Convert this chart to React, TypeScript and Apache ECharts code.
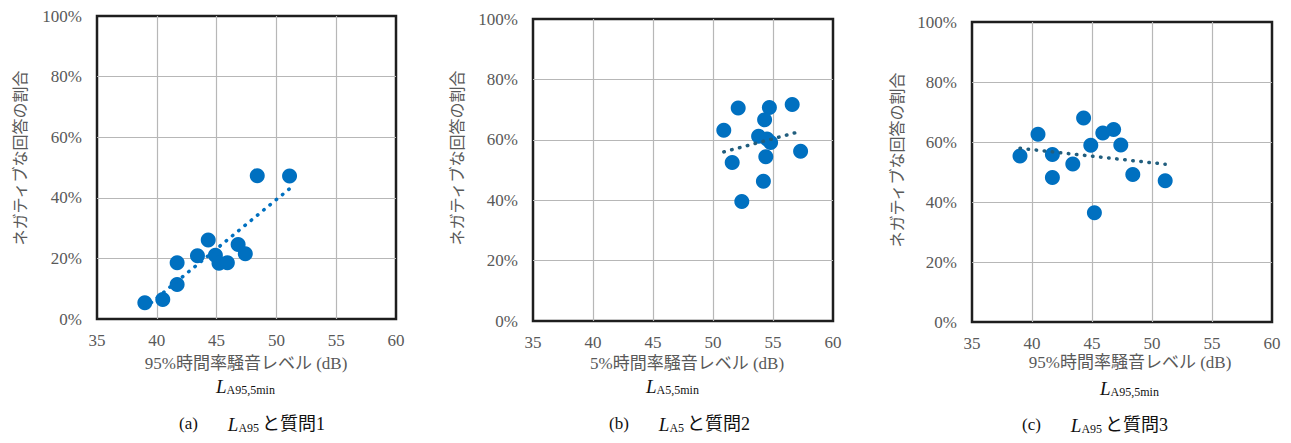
import React, { useEffect, useRef } from "react";
import * as echarts from "echarts";

// ---- data ----
const LA95 = [39.0, 40.5, 41.7, 41.7, 43.4, 44.3, 44.9, 45.2, 45.9, 46.8, 47.4, 48.4, 51.1];
const Q1 = [5.4, 6.4, 11.4, 18.6, 20.9, 26.1, 21.0, 18.4, 18.6, 24.6, 21.5, 47.3, 47.2];
const Q3 = [55.3, 62.6, 55.8, 48.2, 52.7, 68.0, 58.9, 36.4, 63.0, 64.2, 59.0, 49.2, 47.1];
const LA5 = [50.9, 52.1, 54.7, 56.6, 54.3, 53.8, 54.5, 54.8, 51.6, 54.4, 57.3, 54.2, 52.4];
const Q2 = [63.2, 70.5, 70.7, 71.7, 66.6, 61.2, 60.3, 59.1, 52.5, 54.4, 56.2, 46.3, 39.6];

// trend lines (endpoints as drawn in the reference)
const TREND_A_X = [39.0, 51.1];
const TREND_A_Y = [3.7, 43.0];
const TREND_B_X = [50.9, 57.3];
const TREND_B_Y = [56.0, 62.8];
const TREND_C_X = [39.0, 51.1];
const TREND_C_Y = [57.9, 52.6];

const X_MIN = 35;
const X_MAX = 60;
const X_STEP = 5;
const Y_MIN = 0;
const Y_MAX = 100;
const Y_STEP = 20;

const Y_TITLE = "ネガティブな回答の割合";
const X_TITLES = ["95%時間率騒音レベル (dB)", "5%時間率騒音レベル (dB)", "95%時間率騒音レベル (dB)"];
const SUB_LABELS = ["A95,5min", "A5,5min", "A95,5min"];
const CAPTION_TAGS = ["(a)", "(b)", "(c)"];
const CAPTION_SUBS = ["A95", "A5", "A95"];
const CAPTION_TEXTS = ["と質問1", "と質問2", "と質問3"];

const SERIF = "Liberation Serif, serif";
const MIXED = "Liberation Serif, Noto Sans CJK JP, serif";
const CJK = "Noto Sans CJK JP, sans-serif";
const GRAY = "#595959";
const BLUE = "#0070C0";
const TEAL = "#215E7E";

const pairs = (xs: number[], ys: number[]) => xs.map((x, i) => [x, ys[i]]);

const GRIDS = [
  { left: 97, top: 16, width: 299, height: 303 },
  { left: 533, top: 19, width: 300, height: 302 },
  { left: 972, top: 22, width: 300, height: 300 },
];

// layout positions for the free texts
const YTITLE_POS = [
  [19, 158],
  [456, 158],
  [896, 160],
];
const XTITLE_POS = [
  [246, 363],
  [687, 363],
  [1130, 362],
];
const SUB_POS = [
  [216, 386],
  [646, 386],
  [1100, 388],
];
const CAPTION_POS = [
  [179, 424],
  [609, 424],
  [1022, 425],
];

export default function App() {
  const ref = useRef<HTMLDivElement>(null);
  useEffect(() => {
    if (!ref.current) return;
    const chart = echarts.init(ref.current, undefined, { renderer: "svg" });

    const xAxes = GRIDS.map((_, i) => ({
      type: "value",
      gridIndex: i,
      min: X_MIN,
      max: X_MAX,
      interval: X_STEP,
      axisLine: { show: false },
      axisTick: { show: false },
      axisLabel: { color: GRAY, fontSize: 17, fontFamily: SERIF, margin: 13 },
      splitLine: { show: true, showMinLine: false, showMaxLine: false, lineStyle: { color: "#B7B7B7", width: 1.2 } },
    }));
    const yAxes = GRIDS.map((_, i) => ({
      type: "value",
      gridIndex: i,
      min: Y_MIN,
      max: Y_MAX,
      interval: Y_STEP,
      axisLine: { show: false },
      axisTick: { show: false },
      axisLabel: { color: GRAY, fontSize: 17, fontFamily: SERIF, margin: 15, formatter: "{value}%" },
      splitLine: { show: true, showMinLine: false, showMaxLine: false, lineStyle: { color: "#B7B7B7", width: 1.2 } },
    }));

    const scatter = (i: number, xs: number[], ys: number[]) => ({
      type: "scatter",
      xAxisIndex: i,
      yAxisIndex: i,
      data: pairs(xs, ys),
      symbol: "circle",
      symbolSize: 15,
      itemStyle: { color: BLUE, opacity: 1 },
      z: 3,
    });
    const trend = (i: number, xs: number[], ys: number[], color: string) => ({
      type: "line",
      xAxisIndex: i,
      yAxisIndex: i,
      data: pairs(xs, ys),
      showSymbol: false,
      symbol: "none",
      lineStyle: { color, width: 3.5, type: [0.5, 7.6], cap: "round" },
      z: 4,
      silent: true,
    });

    const graphics: any[] = [];
    for (let i = 0; i < 3; i++) {
      graphics.push({
        type: "text",
        x: YTITLE_POS[i][0],
        y: YTITLE_POS[i][1],
        rotation: Math.PI / 2,
        style: {
          text: Y_TITLE,
          fontSize: 16,
          fontFamily: CJK,
          fill: GRAY,
          align: "center",
          verticalAlign: "middle",
        },
      });
      graphics.push({
        type: "text",
        x: XTITLE_POS[i][0],
        y: XTITLE_POS[i][1],
        style: {
          text: X_TITLES[i],
          fontSize: 17,
          fontFamily: MIXED,
          fill: GRAY,
          align: "center",
          verticalAlign: "middle",
        },
      });
      graphics.push({
        type: "text",
        x: SUB_POS[i][0],
        y: SUB_POS[i][1],
        style: {
          text: `{L|L}{s|${SUB_LABELS[i]}}`,
          align: "left",
          verticalAlign: "middle",
          fill: "#111",
          rich: {
            L: { fontSize: 19, fontStyle: "italic", fontFamily: SERIF, fill: "#111", verticalAlign: "top", lineHeight: 19 },
            s: { fontSize: 12, fontFamily: SERIF, fill: "#111", verticalAlign: "bottom", lineHeight: 13, padding: [9, 0, 0, 0] },
          },
        },
      });
      graphics.push({
        type: "text",
        x: CAPTION_POS[i][0],
        y: CAPTION_POS[i][1],
        style: {
          text: `{t|${CAPTION_TAGS[i]}}{L|L}{s|${CAPTION_SUBS[i]}}{j|${CAPTION_TEXTS[i]}}`,
          align: "left",
          verticalAlign: "middle",
          fill: "#111",
          rich: {
            t: { fontSize: 17, fontFamily: SERIF, fill: "#111", padding: [0, 30, 0, 0], verticalAlign: "top", lineHeight: 19 },
            L: { fontSize: 19, fontStyle: "italic", fontFamily: SERIF, fill: "#111", verticalAlign: "top", lineHeight: 19 },
            s: { fontSize: 12, fontFamily: SERIF, fill: "#111", verticalAlign: "bottom", lineHeight: 13, padding: [8, 3, 0, 0] },
            j: { fontSize: 18, fontFamily: MIXED, fill: "#111", verticalAlign: "top", lineHeight: 19 },
          },
        },
      });
    }

    chart.setOption({
      animation: false,
      backgroundColor: "#ffffff",
      grid: GRIDS.map((g) => ({ ...g, show: true, borderColor: "#1e1e1e", borderWidth: 2.5, backgroundColor: "transparent" })),
      xAxis: xAxes,
      yAxis: yAxes,
      series: [
        scatter(0, LA95, Q1),
        trend(0, TREND_A_X, TREND_A_Y, BLUE),
        scatter(1, LA5, Q2),
        trend(1, TREND_B_X, TREND_B_Y, TEAL),
        scatter(2, LA95, Q3),
        trend(2, TREND_C_X, TREND_C_Y, TEAL),
      ],
      graphic: graphics,
    });
    return () => chart.dispose();
  }, []);

  return (
    <div
      ref={ref}
      style={{ position: "fixed", left: 0, top: 0, width: 1291, height: 443, background: "#fff" }}
    />
  );
}
